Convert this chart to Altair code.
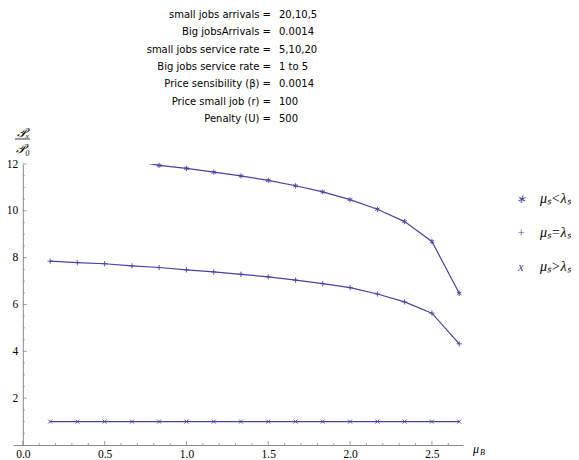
import altair as alt
import pandas as pd

# ---------------- data ----------------
mu_B = [0.167, 0.333, 0.5, 0.667, 0.833, 1.0, 1.167, 1.333, 1.5, 1.667,
        1.833, 2.0, 2.167, 2.333, 2.5, 2.667]
# mu_s < lambda_s : earlier points lie above the plot range (clipped)
lt_x = [0.667, 0.833, 1.0, 1.167, 1.333, 1.5, 1.667, 1.833, 2.0, 2.167,
        2.333, 2.5, 2.667]
lt_y = [12.15, 11.94, 11.81, 11.65, 11.49, 11.30, 11.07, 10.81, 10.48, 10.07,
        9.54, 8.69, 6.48]
# mu_s = lambda_s
eq_y = [7.85, 7.79, 7.74, 7.65, 7.58, 7.48, 7.39, 7.29, 7.18, 7.04,
        6.89, 6.72, 6.45, 6.11, 5.63, 4.32]
# mu_s > lambda_s
gt_y = [1.0, 1.0, 1.0, 1.0, 1.0, 1.0, 1.0, 1.0, 1.0, 1.0,
        1.0, 1.0, 1.0, 1.0, 1.0, 1.0]

series = ["lt", "eq", "gt"]
legend_glyphs = ["\u2217", "+", "x"]
legend_labels = ["\u03bc\u209b<\u03bb\u209b", "\u03bc\u209b=\u03bb\u209b", "\u03bc\u209b>\u03bb\u209b"]

param_names = ["small jobs arrivals =", "Big jobsArrivals =", "small jobs service rate =",
               "Big jobs service rate =", "Price sensibility (\u03b2) =", "Price small job (r) =",
               "Penalty (U) ="]
param_values = ["20,10,5", "0.0014", "5,10,20", "1 to 5", "0.0014", "100", "500"]

x_major = [0.0, 0.5, 1.0, 1.5, 2.0, 2.5]
x_minor = [0.1, 0.2, 0.3, 0.4, 0.6, 0.7, 0.8, 0.9, 1.1, 1.2, 1.3, 1.4,
           1.6, 1.7, 1.8, 1.9, 2.1, 2.2, 2.3, 2.4, 2.6]
y_major = [2, 4, 6, 8, 10, 12]
y_minor = [0.5, 1.0, 1.5, 2.5, 3.0, 3.5, 4.5, 5.0, 5.5, 6.5, 7.0, 7.5,
           8.5, 9.0, 9.5, 10.5, 11.0, 11.5]

# ---------------- table ----------------
rows = []
for x, y in zip(lt_x, lt_y):
    rows.append({"x": x, "y": y, "s": "lt"})
for x, y in zip(mu_B, eq_y):
    rows.append({"x": x, "y": y, "s": "eq"})
for x, y in zip(mu_B, gt_y):
    rows.append({"x": x, "y": y, "s": "gt"})
df = pd.DataFrame(rows)

C = "#4343a3"
GRAY = "#8a8a8a"
STAR = "M0,-1L0,1M-0.87,-0.5L0.87,0.5M-0.87,0.5L0.87,-0.5"
PLUS = "M-1,0L1,0M0,-1L0,1"
CROSS = "M-0.75,-0.75L0.75,0.75M-0.75,0.75L0.75,-0.75"

W, H = 450, 281
XMIN, XMAX = -0.06, 2.69
X0 = (0 - XMIN) / (XMAX - XMIN) * W   # pixel position of x = 0

xaxis = alt.Axis(values=x_major, grid=False, title=None, format=".1f",
                 ticks=False, tickSize=0, domainColor=GRAY, labelColor="black",
                 labelFont="Liberation Serif", labelFontSize=11.5, labelPadding=3,
                 labelOverlap=False, labelFlush=False)
yaxis = alt.Axis(values=y_major, grid=False, title=None, format="d", offset=-X0,
                 ticks=False, tickSize=0, domainColor=GRAY, labelColor="black",
                 labelFont="Liberation Serif", labelFontSize=11.5, labelPadding=5,
                 labelOverlap=False, labelFlush=False)

xscale = alt.Scale(domain=[XMIN, XMAX], nice=False, zero=False)
yscale = alt.Scale(domain=[0, 12], nice=False, zero=False)

lines = alt.Chart(df).mark_line(color=C, strokeWidth=1.2, clip=True).encode(
    x=alt.X("x:Q", scale=xscale, axis=xaxis),
    y=alt.Y("y:Q", scale=yscale, axis=yaxis),
    detail="s:N", order="x:Q")

points = alt.Chart(df).transform_filter("datum.y <= 12").mark_point(
    filled=False, color=C, strokeWidth=0.9, size=28, opacity=1).encode(
    x="x:Q", y="y:Q",
    shape=alt.Shape("s:N", scale=alt.Scale(domain=series, range=[STAR, PLUS, CROSS]), legend=None))

# inward ticks (Mathematica style)
xt_major = alt.Chart(pd.DataFrame({"x": x_major})).mark_rule(color=GRAY, strokeWidth=0.8).encode(
    x="x:Q", y=alt.value(H), y2=alt.value(H - 4))
xt_minor = alt.Chart(pd.DataFrame({"x": x_minor})).mark_rule(color=GRAY, strokeWidth=0.8).encode(
    x="x:Q", y=alt.value(H), y2=alt.value(H - 2))
yt_major = alt.Chart(pd.DataFrame({"y": y_major})).mark_rule(color=GRAY, strokeWidth=0.8).encode(
    y="y:Q", x=alt.value(X0), x2=alt.value(X0 + 4))
yt_minor = alt.Chart(pd.DataFrame({"y": y_minor})).mark_rule(color=GRAY, strokeWidth=0.8).encode(
    y="y:Q", x=alt.value(X0), x2=alt.value(X0 + 2))

one = pd.DataFrame({"k": [0]})

# plot origin is at page (13, 164)
names_txt = alt.Chart(one).mark_text(align="right", baseline="middle", font="DejaVu Sans",
                                     fontSize=10, lineHeight=17.33, color="black").encode(
    x=alt.value(258), y=alt.value(-149), text=alt.value(param_names))
vals_txt = alt.Chart(one).mark_text(align="left", baseline="middle", font="DejaVu Sans",
                                    fontSize=10, lineHeight=17.33, color="black").encode(
    x=alt.value(266), y=alt.value(-149), text=alt.value(param_values))

ylab_top = alt.Chart(one).mark_text(align="center", baseline="middle", font="Liberation Serif",
                                    fontSize=13, fontStyle="italic", color="black").encode(
    x=alt.value(10), y=alt.value(-31), text=alt.value("\U0001d4ab\u2093"))
ylab_bot = alt.Chart(one).mark_text(align="center", baseline="middle", font="Liberation Serif",
                                    fontSize=13, fontStyle="italic", color="black").encode(
    x=alt.value(10), y=alt.value(-15), text=alt.value("\U0001d4ab\u2080"))
ylab_rule = alt.Chart(one).mark_rule(color="black", strokeWidth=0.8).encode(
    x=alt.value(2), x2=alt.value(17), y=alt.value(-25))

xlab_mu = alt.Chart(one).mark_text(align="center", baseline="middle", font="Liberation Serif",
                                   fontSize=12, fontStyle="italic", color="black").encode(
    x=alt.value(463), y=alt.value(285), text=alt.value("\u03bc"))
xlab_b = alt.Chart(one).mark_text(align="left", baseline="middle", font="Liberation Serif",
                                  fontSize=8, fontStyle="italic", color="black").encode(
    x=alt.value(467), y=alt.value(289), text=alt.value("B"))

leg_glyph = alt.Chart(one).mark_text(align="center", baseline="middle", font="Liberation Serif",
                                     fontSize=12, fontStyle="italic", lineHeight=34, color=C).encode(
    x=alt.value(508), y=alt.value(35), text=alt.value(legend_glyphs))
leg_text = alt.Chart(one).mark_text(align="left", baseline="middle", font="Liberation Serif",
                                    fontSize=14, fontStyle="italic", lineHeight=34, color="black").encode(
    x=alt.value(527), y=alt.value(35), text=alt.value(legend_labels))

chart = alt.layer(lines, points, xt_major, xt_minor, yt_major, yt_minor,
                  names_txt, vals_txt, ylab_top, ylab_bot, ylab_rule,
                  xlab_mu, xlab_b, leg_glyph, leg_text).properties(
    width=W, height=H,
    padding={"left": 5, "top": 156, "right": 108, "bottom": 15},
    autosize=alt.AutoSizeParams(type="none"),
    background="white",
).configure_view(stroke=None)

chart.save("out.html", embed_options={"renderer": "svg", "actions": False})
